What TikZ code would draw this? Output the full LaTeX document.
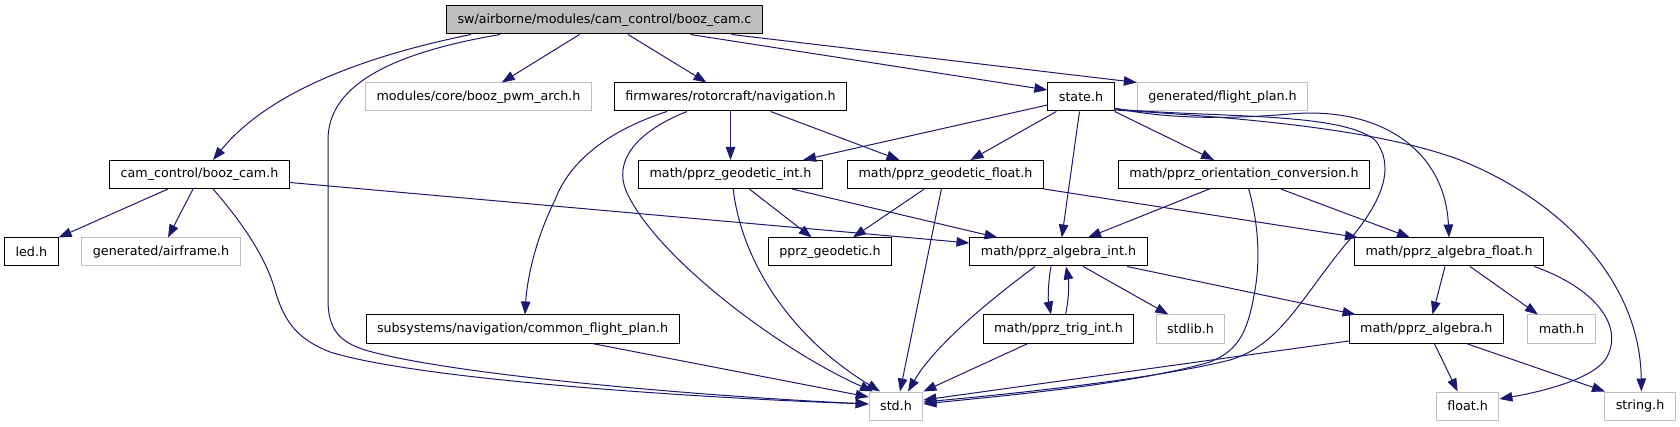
\documentclass[tikz,border=0pt]{standalone}
\usepackage{fontspec}
\setmainfont{DejaVu Sans}
\definecolor{edgeblue}{RGB}{25,25,112}
\definecolor{boxgrey}{RGB}{191,191,191}
\usetikzlibrary{arrows.meta, calc}
\tikzset{
  fnode/.style={draw=black, fill=white, line width=1pt, minimum height=28pt,
                inner xsep=11pt, inner ysep=0pt, font=\fontsize{12.7}{15}\selectfont},
  gnode/.style={fnode, draw=boxgrey},
  rnode/.style={fnode, fill=boxgrey},
  inc/.style={-{Triangle[length=13pt,width=9.5pt]}, edgeblue, line width=1pt},
}

\begin{document}
\begin{tikzpicture}[x=1pt, y=-1pt]
    \useasboundingbox (0,0) rectangle (1680,427);

    % ── FILES ───────────────────────────────────────────────
    \node[rnode](root)  at (604.5,20) {sw/airborne/modules/cam\_control/booz\_cam.c};
    \node[gnode](pwm)   at (478.5,97) {modules/core/booz\_pwm\_arch.h};
    \node[fnode](nav)   at (730.5,97) {firmwares/rotorcraft/navigation.h};
    \node[fnode](state) at (1081,97)  {state.h};
    \node[gnode](fplan) at (1222.5,97){generated/flight\_plan.h};
    \node[fnode](cam)   at (199.5,174.5){cam\_control/booz\_cam.h};
    \node[fnode](gint)  at (730.5,174.5){math/pprz\_geodetic\_int.h};
    \node[fnode](gfloat)at (945.5,174.5){math/pprz\_geodetic\_float.h};
    \node[fnode](orient)at (1244,174.5){math/pprz\_orientation\_conversion.h};
    \node[fnode](led)   at (31.4,252) {led.h};
    \node[gnode](airfr) at (161,252)  {generated/airframe.h};
    \node[fnode](pgeo)  at (830,252)  {pprz\_geodetic.h};
    \node[fnode](aint)  at (1058.5,252){math/pprz\_algebra\_int.h};
    \node[fnode](afloat)at (1449,252) {math/pprz\_algebra\_float.h};
    \node[fnode](cfp)   at (522.5,329){subsystems/navigation/common\_flight\_plan.h};
    \node[fnode](trig)  at (1058.5,329){math/pprz\_trig\_int.h};
    \node[gnode](stdlib)at (1190.5,329){stdlib.h};
    \node[fnode](palg)  at (1426.3,329){math/pprz\_algebra.h};
    \node[gnode](mathh) at (1561.5,329){math.h};
    \node[gnode](stdh)  at (896,406)  {std.h};
    \node[gnode](floath)at (1467.6,406){float.h};
    \node[gnode](strh)  at (1640,406) {string.h};

    % ── FROM booz_cam.c ─────────────────────────────────────
    \draw[inc] ($(root.south)+(-133.5,0)$) .. controls (370,55) and (270,90) .. ($(cam.north)+(13.5,0)$);
    \draw[inc] ($(root.south)+(-104.5,0)$) .. controls (380,55) and (328,90) .. (328,140) -- (328,300)
               .. controls (328,330) and (340,342) .. (365,350)
               .. controls (450,375) and (700,396) .. ($(stdh.west)+(0,-2)$);
    \draw[inc] ($(root.south)+(-25,0)$) -- ($(pwm.north)+(23.3,0)$);
    \draw[inc] ($(root.south)+(23.5,0)$) -- ($(nav.north)+(-24,0)$);
    \draw[inc] ($(root.south)+(86,0)$) -- ($(state.west)+(0,-7)$);
    \draw[inc] ($(root.south)+(127,0)$) -- (fplan.north west);

    % ── FROM booz_cam.h ─────────────────────────────────────
    \draw[inc] ($(cam.south)+(-31.5,0)$) -- (led.north east);
    \draw[inc] ($(cam.south)+(-6.5,0)$) -- ($(airfr.north)+(7,0)$);
    \draw[inc] ($(cam.south)+(13.5,0)$) .. controls (240,220) and (265,255) .. (275,290)
               .. controls (285,325) and (300,340) .. (330,352)
               .. controls (420,380) and (700,398) .. ($(stdh.west)+(0,-2)$);
    \draw[inc] ($(cam.east)+(0,8)$) -- ($(aint.west)+(0,-9)$);

    % ── FROM navigation.h ───────────────────────────────────
    \draw[inc] (nav) -- (gint);
    \draw[inc] ($(nav.south)+(40,0)$) -- ($(gfloat.north)+(-46,0)$);
    \draw[inc] ($(nav.south)+(-63.5,0)$) .. controls (610,130) and (570,160) .. (555,200)
               .. controls (535,240) and (527,280) .. ($(cfp.north)+(2.5,0)$);
    \draw[inc] ($(nav.south)+(-43.5,0)$) .. controls (640,130) and (610,160) .. (628,195)
               .. controls (660,260) and (780,350) .. ($(stdh.north)+(-23,0)$);

    % ── FROM state.h ────────────────────────────────────────
    \draw[inc] ($(state.west)+(0,8)$) -- ($(gint.north)+(72.5,0)$);
    \draw[inc] ($(state.south)+(-24.6,0)$) -- ($(gfloat.north)+(25,0)$);
    \draw[inc] ($(state.south)+(-1.5,0)$) -- ($(aint.north)+(3.3,0)$);
    \draw[inc] (state.south east) -- ($(orient.north)+(-30,0)$);
    \draw[inc] ($(state.east)+(0,11)$) .. controls (1160,118) and (1220,120) .. (1290,114)
               .. controls (1380,106) and (1445,150) .. (afloat.north);
    \draw[inc] ($(state.east)+(0,12)$) .. controls (1220,118) and (1340,112) .. (1375,140)
               .. controls (1395,165) and (1385,200) .. (1345,245)
               .. controls (1300,300) and (1280,345) .. (1230,360)
               .. controls (1150,380) and (1000,395) .. ($(stdh.east)+(0,-4)$);
    \draw[inc] ($(state.east)+(0,13)$) .. controls (1250,118) and (1380,130) .. (1460,160)
               .. controls (1560,200) and (1640,280) .. ($(strh.north)+(1.4,0)$);

    % ── FROM geodetic headers ───────────────────────────────
    \draw[inc] ($(gint.south)+(18.8,0)$) -- ($(pgeo.north)+(-18.2,0)$);
    \draw[inc] ($(gint.south)+(61.5,0)$) -- ($(aint.north)+(-61,0)$);
    \draw[inc] ($(gint.south)+(2.7,0)$) .. controls (740,250) and (780,330) .. ($(stdh.north)+(-16,0)$);
    \draw[inc] ($(gfloat.south)+(-21.2,0)$) -- ($(pgeo.north)+(22.9,0)$);
    \draw[inc] ($(gfloat.south)+(-4.1,0)$) -- ($(stdh.north)+(4,0)$);
    \draw[inc] (gfloat.south east) -- ($(afloat.north)+(-91,0)$);

    % ── FROM orientation_conversion.h ───────────────────────
    \draw[inc] ($(orient.south)+(-34.7,0)$) -- ($(aint.north)+(29.5,0)$);
    \draw[inc] ($(orient.south)+(4.6,0)$) .. controls (1255,210) and (1262,250) .. (1255,290)
               .. controls (1248,330) and (1240,350) .. (1210,362)
               .. controls (1130,385) and (1000,396) .. ($(stdh.east)+(0,-2)$);
    \draw[inc] ($(orient.south)+(36.7,0)$) -- ($(afloat.north)+(-39,0)$);

    % ── FROM pprz_algebra_int.h ─────────────────────────────
    \draw[inc] ($(aint.south)+(-23.5,0)$) .. controls (990,300) and (935,345) .. ($(stdh.north)+(12,0)$);
    \draw[inc] ($(aint.south)+(-7.5,0)$) .. controls (1048,282) and (1048,300) .. ($(trig.north)+(-7.5,0)$);
    \draw[inc] ($(trig.north)+(7,0)$) .. controls (1069,300) and (1069,282) .. ($(aint.south)+(7.5,0)$);
    \draw[inc] ($(aint.south)+(24.7,0)$) -- ($(stdlib.north)+(-22.2,0)$);
    \draw[inc] ($(aint.south)+(68.5,0)$) -- ($(palg.north)+(-70.7,0)$);

    % ── FROM pprz_algebra_float.h ───────────────────────────
    \draw[inc] ($(afloat.south)+(-4,0)$) -- ($(palg.north)+(6.2,0)$);
    \draw[inc] ($(afloat.south)+(21,0)$) -- ($(mathh.north)+(-23.6,0)$);
    \draw[inc] ($(afloat.south)+(85.3,0)$) .. controls (1600,290) and (1625,330) .. (1605,360)
               .. controls (1590,380) and (1540,392) .. ($(floath.east)+(0,-7)$);

    % ── LOWER ROWS ──────────────────────────────────────────
    \draw[inc] ($(palg.south)+(8,0)$) -- ($(floath.north)+(-10,0)$);
    \draw[inc] ($(palg.south)+(40,0)$) -- ($(strh.north)+(-35,0)$);
    \draw[inc] ($(palg.west)+(0,12)$) -- ($(stdh.east)+(0,-6)$);
    \draw[inc] ($(cfp.south)+(69.5,0)$) -- ($(stdh.west)+(0,-9)$);
    \draw[inc] ($(trig.south)+(-30.6,0)$) -- (stdh.north east);
\end{tikzpicture}
\end{document}
